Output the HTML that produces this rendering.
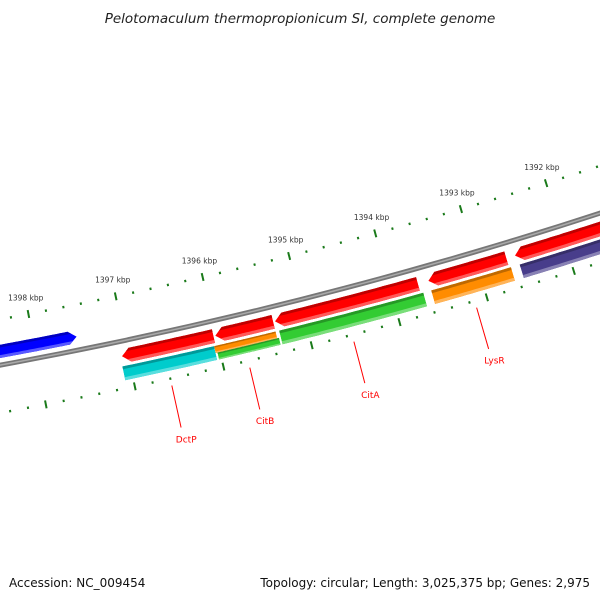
<!DOCTYPE html>
<html><head><meta charset="utf-8"><style>
body{margin:0;background:#fff}
svg{display:block}
text{font-family:"DejaVu Sans","Liberation Sans",sans-serif}
</style></head><body>
<svg id="c" width="600" height="600" viewBox="0 0 600 600" xmlns="http://www.w3.org/2000/svg">
<defs id="defs"></defs>
<text x="300" y="23" text-anchor="middle" font-size="13.5" font-style="italic" fill="#222">Pelotomaculum thermopropionicum SI, complete genome</text>
<text x="9" y="587" font-size="12" fill="#111">Accession: NC_009454</text>
<text x="590" y="587" text-anchor="end" font-size="12" fill="#111">Topology: circular; Length: 3,025,375 bp; Genes: 2,975</text>
</svg>
<script>
// data arrays
const tickLabelsKbp = [1398, 1397, 1396, 1395, 1394, 1393, 1392];
const geneNames = ["blue-gene","red1","red2","red3","red4","red5","DctP","orange1","CitB","CitA","orange2","purple"];
const geneStarts = [1399300,1397070,1396010,1395330,1393570,1392570,1397090,1396050,1396030,1395310,1393570,1392550];
const geneEnds   = [1397520,1396030,1395350,1393690,1392670,1390500,1396050,1395350,1395330,1393660,1392650,1390500];
const geneRows   = ["blue","red","red","red","red","red","row2","row2top","row2bot","row2","row2","row2"];
const geneColors = ["#0000ff","#ff0000","#ff0000","#ff0000","#ff0000","#ff0000","#00cccc","#ff8c00","#33cc33","#33cc33","#ff8c00","#483d8b"];
const geneArrows = ["right","left","left","left","left","left","none","none","none","none","none","none"];
const labelNames = ["DctP","CitB","CitA","LysR"];
const labelBp    = [1396600,1395720,1394540,1393140];

const svg=document.getElementById('c');
const defs=document.getElementById('defs');
const NS='http://www.w3.org/2000/svg';
const CX=-852, CY=-4259, PHI0=0.1902, K=1.912e-5;
function P(bp,r){const f=PHI0+(1398000-bp)*K;return [CX+r*Math.sin(f),CY+r*Math.cos(f)];}
function mk(tag,attrs){const e=document.createElementNS(NS,tag);for(const k in attrs)e.setAttribute(k,attrs[k]);return e;}
function arcPts(b0,b1,r){const pts=[];const n=40;for(let i=0;i<=n;i++){pts.push(P(b0+(b1-b0)*i/n,r));}return pts;}
const rows={blue:[4682,4695],red:[4710,4724],row2:[4727,4741],row2top:[4727,4734],row2bot:[4734,4741]};

// backbone
const bb=arcPts(1400500,1390500,4702).map(p=>p[0].toFixed(1)+','+p[1].toFixed(1)).join(' ');
const g0=mk('g',{});


g0.appendChild(mk('polyline',{points:bb,fill:'none',stroke:'#777',"stroke-width":5}));
g0.appendChild(mk('polyline',{points:bb,fill:'none',stroke:'#aaa',"stroke-width":1.5}));
svg.appendChild(g0);

// ticks
function ring(r,name){
  const g=mk('g',{});
  
  
  for(let bp=1391000;bp<=1399600;bp+=200){
    const major=(bp%1000===0);
    const h=major?4:1.2;
    const a=P(bp,r-h),b=P(bp,r+h);
    g.appendChild(mk('line',{x1:a[0],y1:a[1],x2:b[0],y2:b[1],stroke:'#1a7a1a',"stroke-width":2}));
  }
  svg.appendChild(g);
}
ring(4657,'outer-tick-ring');
ring(4749,'inner-tick-ring');
tickLabelsKbp.forEach(k=>{
  const p=P(k*1000,4643);
  const t=mk('text',{x:p[0],y:p[1],"text-anchor":"middle","font-size":7.5,fill:'#333'});
  t.textContent=k+' kbp';
  
  
  svg.appendChild(t);
});

// genes
function shade(c,f){const n=parseInt(c.slice(1),16);let r=n>>16,g=(n>>8)&255,b=n&255;
  if(f<0){r*=1+f;g*=1+f;b*=1+f;}else{r+=(255-r)*f;g+=(255-g)*f;b+=(255-b)*f;}
  return 'rgb('+Math.round(r)+','+Math.round(g)+','+Math.round(b)+')';}
function shape(s,e,r0,r1,arrow){
  const head=90;let pts=[];
  if(arrow==='left'){
    const rm=(r0+r1)/2;
    pts.push(P(s,rm));pts=pts.concat(arcPts(s-head,e,r0));pts=pts.concat(arcPts(e,s-head,r1));
  }else if(arrow==='right'){
    const rm=(r0+r1)/2;
    pts=pts.concat(arcPts(s,e+head,r0));pts.push(P(e,rm));pts=pts.concat(arcPts(e+head,s,r1));
  }else{pts=arcPts(s,e,r0).concat(arcPts(e,s,r1));}
  return pts.map(p=>p[0].toFixed(1)+','+p[1].toFixed(1)).join(' ');
}
geneStarts.forEach((s,i)=>{
  const e=geneEnds[i],[r0,r1]=rows[geneRows[i]],c=geneColors[i],a=geneArrows[i];
  const cp=mk('clipPath',{id:'cp'+i});
  cp.appendChild(mk('polygon',{points:shape(s,e,r0,r1,a)}));
  defs.appendChild(cp);
  const g=mk('g',{"clip-path":'url(#cp'+i+')'});
  
  
  const h=(r1-r0);
  g.appendChild(mk('polygon',{points:shape(s,e,r0-2,r1+2,'none'),fill:c}));
  g.appendChild(mk('polygon',{points:shape(s,e,r0-2,r0+h*0.2,'none'),fill:shade(c,-0.25)}));
  g.appendChild(mk('polygon',{points:shape(s,e,r1-h*0.22,r1+2,'none'),fill:shade(c,0.35)}));
  svg.appendChild(g);
});

// gene labels
labelNames.forEach((n,i)=>{
  const a=P(labelBp[i],4756),b=P(labelBp[i],4799),t=P(labelBp[i],4809);
  const ln=mk('line',{x1:a[0],y1:a[1],x2:b[0],y2:b[1],stroke:'#ff0000',"stroke-width":1});
  
  
  svg.appendChild(ln);
  const tx=mk('text',{x:t[0]+3,y:t[1]+5,"text-anchor":"middle","font-size":9,fill:'#ff0000'});
  tx.textContent=n;
  
  
  svg.appendChild(tx);
});
</script>
</body></html>
